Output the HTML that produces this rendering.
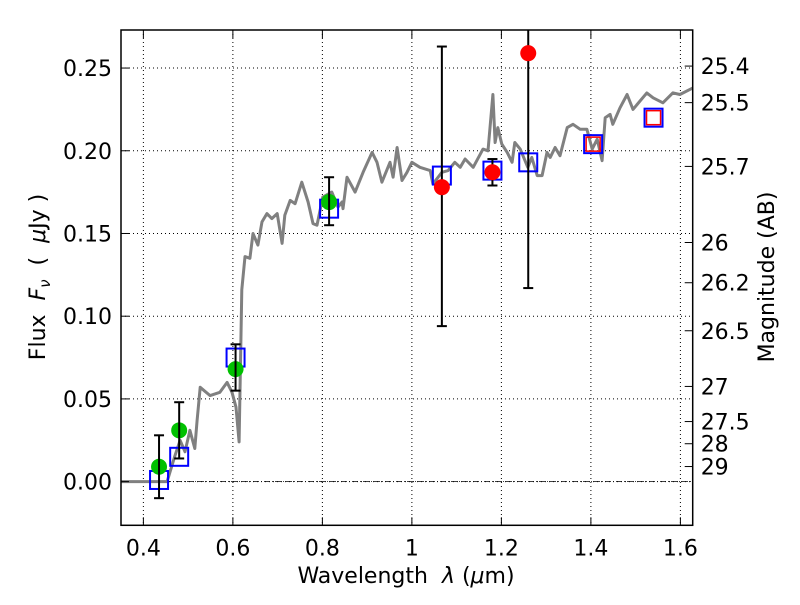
<!DOCTYPE html>
<html><head><meta charset="utf-8"><style>
html,body{margin:0;padding:0;background:#fff;}
svg text{font-family:"DejaVu Sans","Liberation Sans",sans-serif;fill:#000;white-space:pre;}
</style></head><body>
<svg id="chart" width="800" height="600" viewBox="0 0 800 600" xmlns="http://www.w3.org/2000/svg">
<rect x="0" y="0" width="800" height="600" fill="#fff"/>
<g id="grid"></g>
<g id="marks"></g>
<g id="axes"></g>
<text x="406" y="583" font-size="22" text-anchor="middle">Wavelength&#160;&#160;<tspan font-style="italic">λ</tspan> (<tspan font-style="italic">μ</tspan>m)</text>
<text transform="translate(45,277) rotate(-90)" font-size="22" text-anchor="middle">Flux&#160;&#160;<tspan font-style="italic">F</tspan><tspan font-style="italic" font-size="15" dy="5">ν</tspan><tspan dy="-5">&#160;&#160;(&#160;&#160;</tspan><tspan font-style="italic">μ</tspan>Jy )</text>
<text transform="translate(774,277) rotate(-90)" font-size="22" text-anchor="middle">Magnitude (AB)</text>
</svg>
<script>
const xTicks=[0.4,0.6,0.8,1.0,1.2,1.4,1.6];
const xTickLabels=["0.4","0.6","0.8","1","1.2","1.4","1.6"];
const yTicks=[0,0.05,0.10,0.15,0.20,0.25];
const yTickLabels=["0.00","0.05","0.10","0.15","0.20","0.25"];
const magTicks=[25.4,25.5,25.7,26,26.2,26.5,27,27.5,28,29];
const magTickLabels=["25.4","25.5","25.7","26","26.2","26.5","27","27.5","28","29"];
const specWave=[0.35,0.453,0.471,0.482,0.493,0.504,0.515,0.520,0.527,0.549,0.571,0.587,0.598,0.607,0.614,0.620,0.627,0.638,0.645,0.656,0.665,0.676,0.687,0.699,0.710,0.716,0.728,0.739,0.754,0.768,0.779,0.788,0.801,0.821,0.835,0.844,0.846,0.855,0.873,0.891,0.911,0.922,0.933,0.951,0.958,0.967,0.978,0.989,1.000,1.018,1.041,1.047,1.067,1.081,1.096,1.108,1.119,1.137,1.159,1.170,1.181,1.186,1.192,1.201,1.213,1.224,1.230,1.242,1.259,1.268,1.280,1.291,1.302,1.309,1.320,1.331,1.347,1.360,1.376,1.391,1.403,1.414,1.425,1.432,1.443,1.449,1.465,1.481,1.494,1.525,1.539,1.561,1.583,1.599,1.628];
const specFlux=[0,0,0.016,0.025,0.018,0.031,0.020,0.037,0.057,0.052,0.054,0.060,0.054,0.045,0.024,0.116,0.136,0.135,0.150,0.143,0.157,0.162,0.159,0.162,0.144,0.161,0.170,0.168,0.181,0.169,0.156,0.155,0.172,0.175,0.166,0.169,0.165,0.184,0.175,0.187,0.199,0.193,0.181,0.193,0.184,0.202,0.182,0.187,0.193,0.190,0.188,0.180,0.187,0.188,0.193,0.190,0.195,0.190,0.201,0.200,0.234,0.205,0.214,0.204,0.199,0.193,0.205,0.201,0.190,0.196,0.185,0.185,0.199,0.196,0.202,0.197,0.214,0.216,0.213,0.213,0.201,0.207,0.194,0.220,0.222,0.216,0.226,0.234,0.225,0.235,0.232,0.229,0.235,0.234,0.238];
const modelWave=[0.435,0.48,0.606,0.815,1.067,1.18,1.26,1.405,1.54];
const modelFlux=[0.001,0.015,0.075,0.165,0.185,0.188,0.193,0.204,0.220];
const modelRedWave=[1.405,1.54];
const modelRedFlux=[0.204,0.220];
const detWave=[0.435,0.48,0.606,0.815];
const detFlux=[0.009,0.031,0.068,0.169];
const detLo=[-0.010,0.014,0.055,0.155];
const detHi=[0.028,0.048,0.083,0.184];
const irWave=[1.067,1.18,1.26];
const irFlux=[0.178,0.187,0.259];
const irLo=[0.094,0.179,0.117];
const irHi=[0.263,0.195,0.30];

const L=121,R=692.7,T=30,B=525.3;
const X0=0.35,X1=1.6275,Y0=-0.0264,Y1=0.273;
const sx=v=>L+(v-X0)/(X1-X0)*(R-L);
const sy=v=>B-(v-Y0)/(Y1-Y0)*(B-T);
const magToFlux=m=>Math.pow(10,(23.9-m)/2.5);
const NS="http://www.w3.org/2000/svg";
function mk(parent,tag,attrs){const e=document.createElementNS(NS,tag);for(const k in attrs)e.setAttribute(k,attrs[k]);parent.appendChild(e);return e;}
const grid=document.getElementById('grid'),marks=document.getElementById('marks'),axes=document.getElementById('axes');

xTicks.forEach((t,i)=>{
 const g=mk(grid,'line',{x1:sx(t),x2:sx(t),y1:T,y2:B,stroke:'#000','stroke-width':1,'stroke-dasharray':'1,3'});
 
 
 mk(axes,'line',{x1:sx(t),x2:sx(t),y1:B,y2:B-8,stroke:'#000','stroke-width':1});
 mk(axes,'line',{x1:sx(t),x2:sx(t),y1:T,y2:T+8,stroke:'#000','stroke-width':1});
 const tx=mk(axes,'text',{x:sx(t),y:B+30,'font-size':22,'text-anchor':'middle'});
 tx.textContent=xTickLabels[i];
 
 
});
yTicks.forEach((t,i)=>{
 const g=mk(grid,'line',{x1:L,x2:R,y1:sy(t),y2:sy(t),stroke:'#000','stroke-width':1,'stroke-dasharray':'1,3'});
 
 
 mk(axes,'line',{x1:L,x2:L+8,y1:sy(t),y2:sy(t),stroke:'#000','stroke-width':1});
 const tx=mk(axes,'text',{x:L-9,y:sy(t)+8,'font-size':22,'text-anchor':'end'});
 tx.textContent=yTickLabels[i];
 
 
});
const zl=mk(grid,'line',{x1:L,x2:R,y1:sy(0),y2:sy(0),stroke:'#000','stroke-width':0.8,'stroke-dasharray':'6,2,1,2'});


magTicks.forEach((m,i)=>{
 const y=sy(magToFlux(m));
 mk(axes,'line',{x1:R,x2:R-8,y1:y,y2:y,stroke:'#000','stroke-width':1});
 const tx=mk(axes,'text',{x:R+8,y:y+8,'font-size':22,'text-anchor':'start'});
 tx.textContent=magTickLabels[i];
 
 
});

let d='';specWave.forEach((w,i)=>{d+=(i?'L':'M')+sx(w).toFixed(1)+','+sy(specFlux[i]).toFixed(1);});
const sp=mk(marks,'path',{d:d,fill:'none',stroke:'#808080','stroke-width':3,'stroke-linejoin':'round'});



modelWave.forEach((w,i)=>{
 const r=mk(marks,'rect',{x:sx(w)-9,y:sy(modelFlux[i])-9,width:18,height:18,fill:'none',stroke:'#0000ff','stroke-width':2});
 
 
});
modelRedWave.forEach((w,i)=>{
 const r=mk(marks,'rect',{x:sx(w)-7,y:sy(modelRedFlux[i])-7,width:14,height:14,fill:'none',stroke:'#ff0000','stroke-width':1.5});
 
 
});

function errbar(w,lo,hi,name){
 const x=sx(w),y1=Math.max(sy(hi),T),y2=sy(lo);
 const g=mk(marks,'g',{});
 
 
 mk(g,'line',{x1:x,x2:x,y1:y1,y2:y2,stroke:'#000','stroke-width':2});
 if(sy(hi)>=T) mk(g,'line',{x1:x-5,x2:x+5,y1:y1,y2:y1,stroke:'#000','stroke-width':2});
 mk(g,'line',{x1:x-5,x2:x+5,y1:y2,y2:y2,stroke:'#000','stroke-width':2});
}
detWave.forEach((w,i)=>{
 const c=mk(marks,'circle',{cx:sx(w),cy:sy(detFlux[i]),r:8,fill:'#00c000'});
 
 
 errbar(w,detLo[i],detHi[i],'optical-errorbar');
});
irWave.forEach((w,i)=>{
 errbar(w,irLo[i],irHi[i],'ir-errorbar');
 const c=mk(marks,'circle',{cx:sx(w),cy:sy(irFlux[i]),r:8,fill:'#ff0000'});
 
 
});

const fr=mk(axes,'rect',{x:L,y:T,width:R-L,height:B-T,fill:'none',stroke:'#000','stroke-width':1.5});


</script>
</body></html>
